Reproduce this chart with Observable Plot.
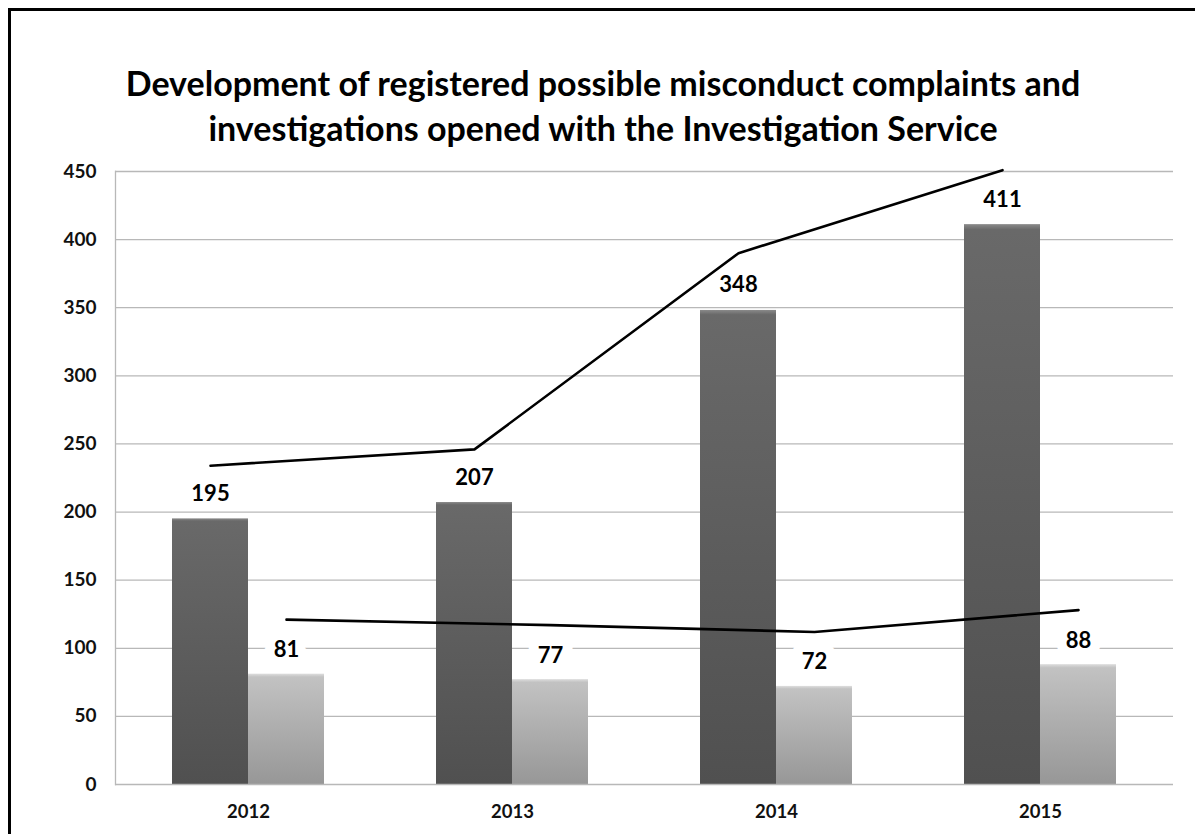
<!DOCTYPE html>
<html>
<head>
<meta charset="utf-8">
<script src="https://cdn.jsdelivr.net/npm/d3@7"></script>
<script src="https://cdn.jsdelivr.net/npm/@observablehq/plot@0.6"></script>
<style>
  html, body { margin: 0; padding: 0; background: #fff; }
  #page { position: relative; width: 1195px; height: 834px; overflow: hidden; background: #fff; font-family: Lato, "Open Sans", sans-serif; }
  #borderTop { position: absolute; left: 8px; top: 8px; width: 1187px; height: 3px; background: #000; }
  #borderLeft { position: absolute; left: 8px; top: 8px; width: 3px; height: 826px; background: #000; }
  #title { position: absolute; left: 53px; width: 1100px; top: 60px; text-align: center; font-weight: 700; font-size: 34px; line-height: 45px; color: #000; }
  #chart { position: absolute; left: 0; top: 150px; }
</style>
</head>
<body>
<div id="page">
  <div id="borderTop"></div>
  <div id="borderLeft"></div>
  <div id="title">Development of registered possible misconduct complaints and<br>investigations opened with the Investigation Service</div>
  <div id="chart"></div>
</div>
<script>
const years = ["2012", "2013", "2014", "2015"];
const complaints = [195, 207, 348, 411];
const investigations = [81, 77, 72, 88];
const complaintsLine = [234, 246, 390, 451];
const investigationsLine = [121, 117, 112, 128];
const yTicks = [0, 50, 100, 150, 200, 250, 300, 350, 400, 450];

const darkData = years.map((y, i) => ({year: y, value: complaints[i]}));
const lightData = years.map((y, i) => ({year: y, value: investigations[i]}));
const darkLine = years.map((y, i) => ({year: y, value: complaintsLine[i]}));
const lightLine = years.map((y, i) => ({year: y, value: investigationsLine[i]}));

const halfBar = 38;
const font = "Lato, 'Open Sans', sans-serif";

const chart = Plot.plot({
  width: 1195,
  height: 684,
  marginLeft: 115,
  marginRight: 22,
  marginTop: 21,
  marginBottom: 50,
  style: {fontFamily: font, background: "transparent", overflow: "visible"},
  x: {domain: years, paddingInner: 0.7127, paddingOuter: 0.3563, label: null},
  y: {domain: [0, 450], ticks: yTicks, label: null},
  marks: [
    Plot.gridY(yTicks.filter(d => d > 0), {stroke: "#b8b8b8", strokeOpacity: 1, strokeWidth: 1.3}),
    Plot.frame({anchor: "left", stroke: "#b8b8b8", strokeWidth: 1.3}),
    Plot.axisY({ticks: yTicks, tickSize: 0, tickPadding: 19, fontSize: 19, fontWeight: 700, fill: "#111", label: null}),
    Plot.axisX({tickSize: 0, tickPadding: 20, fontSize: 18.5, fontWeight: 700, fill: "#111", label: null}),
    Plot.barY(darkData, {x: "year", y: "value", dx: -halfBar, fill: "url(#darkGrad)"}),
    Plot.barY(lightData, {x: "year", y: "value", dx: halfBar, fill: "url(#lightGrad)"}),
    Plot.ruleY([0], {stroke: "#b8b8b8", strokeWidth: 1.5}),
    Plot.text(darkData, {x: "year", y: "value", text: d => String(d.value), dx: -halfBar, dy: -25, fontSize: 22, fontWeight: 700, fill: "#000", stroke: "white", strokeWidth: 20, strokeLinejoin: "round"}),
    Plot.text(lightData, {x: "year", y: "value", text: d => String(d.value), dx: halfBar, dy: -24, fontSize: 22, fontWeight: 700, fill: "#000", stroke: "white", strokeWidth: 20, strokeLinejoin: "round"}),
    Plot.lineY(darkLine, {x: "year", y: "value", dx: -halfBar, stroke: "#000", strokeWidth: 2.6}),
    Plot.lineY(lightLine, {x: "year", y: "value", dx: halfBar, stroke: "#000", strokeWidth: 2.6})
  ]
});

const svg = d3.select(chart);
const defs = svg.insert("defs", ":first-child");
const dg = defs.append("linearGradient").attr("id", "darkGrad").attr("x1", 0).attr("y1", 0).attr("x2", 0).attr("y2", 1);
dg.append("stop").attr("offset", "0%").attr("stop-color", "#8a8a8a");
dg.append("stop").attr("offset", "1%").attr("stop-color", "#696969");
dg.append("stop").attr("offset", "100%").attr("stop-color", "#505050");
const lg = defs.append("linearGradient").attr("id", "lightGrad").attr("x1", 0).attr("y1", 0).attr("x2", 0).attr("y2", 1);
lg.append("stop").attr("offset", "0%").attr("stop-color", "#dedede");
lg.append("stop").attr("offset", "3%").attr("stop-color", "#c2c2c2");
lg.append("stop").attr("offset", "100%").attr("stop-color", "#979797");

document.getElementById("chart").appendChild(chart);
</script>
</body>
</html>
